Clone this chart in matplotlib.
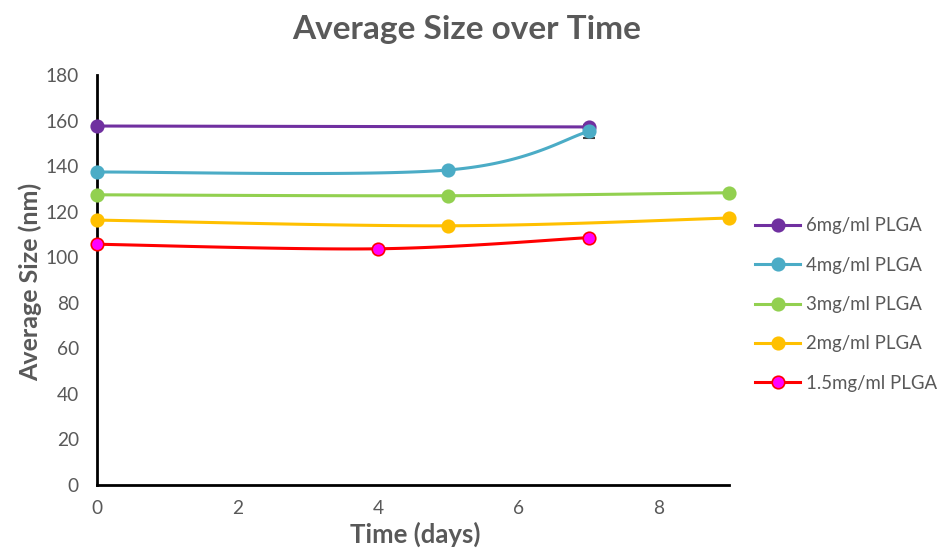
import numpy as np
import matplotlib
matplotlib.use("Agg")
import matplotlib.pyplot as plt

plt.rcParams['font.family'] = ['Lato', 'DejaVu Sans']

# ---- data ----
title = "Average Size over Time"
xlabel = "Time (days)"
ylabel = "Average Size (nm)"

labels = ["6mg/ml PLGA", "4mg/ml PLGA", "3mg/ml PLGA", "2mg/ml PLGA", "1.5mg/ml PLGA"]
x_6 = [0, 7];       y_6 = [157.6, 157.2]
x_4 = [0, 5, 7];    y_4 = [137.4, 138.3, 155.2]
x_3 = [0, 5, 9];    y_3 = [127.4, 127.0, 128.3]
x_2 = [0, 5, 9];    y_2 = [116.3, 113.8, 117.2]
x_15 = [0, 4, 7];   y_15 = [105.7, 103.7, 108.6]
err_4 = [0, 0, 2.7]

xticks = [0, 2, 4, 6, 8]
yticks = [0, 20, 40, 60, 80, 100, 120, 140, 160, 180]

series = [(x_6, y_6), (x_4, y_4), (x_3, y_3), (x_2, y_2), (x_15, y_15)]
colors = ["#7030A0", "#4BACC6", "#92D050", "#FFC000", "#FF0000"]
mfaces = ["#7030A0", "#4BACC6", "#92D050", "#FFC000", "#FF00FF"]

GRAY = "#595959"


def smooth(xs, ys, n=60):
    """Excel-like smoothed line through the points (Catmull-Rom Bezier)."""
    P = np.column_stack([xs, ys]).astype(float)
    if len(P) < 3:
        return P[:, 0], P[:, 1]
    ext = np.vstack([P[0], P, P[-1]])
    out = []
    t = np.linspace(0, 1, n)[:, None]
    for i in range(len(P) - 1):
        p0, p1, p2, p3 = ext[i], ext[i + 1], ext[i + 2], ext[i + 3]
        c1 = p1 + (p2 - p0) / 6.0
        c2 = p2 - (p3 - p1) / 6.0
        b = ((1 - t) ** 3) * p1 + 3 * ((1 - t) ** 2) * t * c1 + 3 * (1 - t) * t ** 2 * c2 + t ** 3 * p2
        out.append(b if i == 0 else b[1:])
    B = np.vstack(out)
    return B[:, 0], B[:, 1]


fig = plt.figure(figsize=(9.38, 5.48), dpi=100)
ax = fig.add_axes([97 / 938, 1 - 485 / 548, (729 - 97) / 938, (485 - 75) / 548])

handles = []
for (xs, ys), c, mf, lab in zip(series, colors, mfaces, labels):
    sx, sy = smooth(xs, ys)
    ax.plot(sx, sy, color=c, lw=2.2, solid_capstyle='round', zorder=3, clip_on=False)
    ax.plot(xs, ys, linestyle='none', marker='o', ms=9, markerfacecolor=mf,
            markeredgecolor=c, markeredgewidth=1.2, zorder=4, clip_on=False)
    h, = ax.plot([], [], color=c, lw=2.2, marker='o', ms=9, markerfacecolor=mf,
                 markeredgecolor=c, markeredgewidth=1.2)
    handles.append(h)

ax.errorbar(x_4, y_4, yerr=err_4, fmt='none', ecolor='#404040', elinewidth=1,
            capsize=4, capthick=1.5, zorder=2)

ax.set_xlim(0, 9)
ax.set_ylim(0, 180)
ax.set_xticks(xticks)
ax.set_yticks(yticks)
ax.tick_params(axis='both', length=0, labelsize=13.8, colors=GRAY)
ax.tick_params(axis='y', pad=13)
ax.tick_params(axis='x', pad=11)

for s in ['top', 'right']:
    ax.spines[s].set_visible(False)
for s in ['left', 'bottom']:
    ax.spines[s].set_color('black')
    ax.spines[s].set_linewidth(2)

fig.text(467 / 938, 1 - 30 / 548, title, ha='center', va='center',
         fontsize=24, fontweight='bold', color=GRAY)
fig.text(30 / 938, 1 - 282 / 548, ylabel, ha='center', va='center', rotation=90,
         fontsize=18, fontweight='bold', color=GRAY)
fig.text(415 / 938, 1 - 547 / 548, xlabel, ha='center', va='bottom',
         fontsize=18.5, fontweight='bold', color=GRAY)

leg = fig.legend(handles, labels, loc='upper left', bbox_to_anchor=(748 / 938, 1 - 210 / 548),
                 frameon=False, fontsize=13.4, handlelength=2.4, handletextpad=0.3,
                 labelspacing=1.2, borderaxespad=0)
for t in leg.get_texts():
    t.set_color(GRAY)

fig.savefig("out.png", dpi=100)
